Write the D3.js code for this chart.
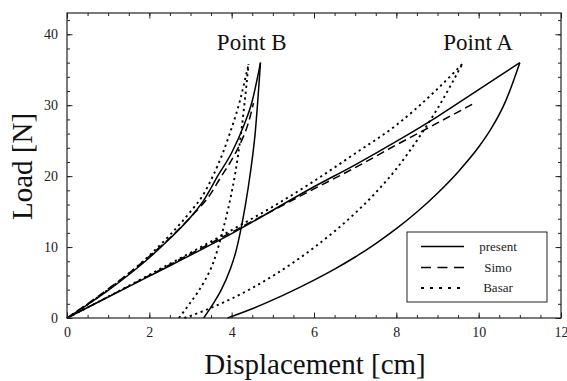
<!DOCTYPE html>
<html><head><meta charset="utf-8">
<script src="https://cdn.jsdelivr.net/npm/d3@7"></script>
<style>
body{margin:0;background:#fff;}
svg text{font-family:"Liberation Serif","Times New Roman",serif;}
</style></head>
<body><svg id="c" width="567" height="381"></svg>
<script>
// ---- data (x = displacement [cm], y = load [N]) ----
const xMajorTicks = [0, 2, 4, 6, 8, 10, 12];
const xMinorTicks = d3.range(0, 12.01, 0.5);
const yMajorTicks = [0, 10, 20, 30, 40];
const yMinorTicks = d3.range(0, 43, 2);

const presentLoadA = [[0,0],[2,5.9],[4,11.9],[6,18.5],[7,21.6],[8,24.9],[9,28.4],[10,32.2],[11,36]];
const presentUnloadA = [[3.9,0],[4.5,1.3],[5,2.55],[5.5,3.9],[6,5.35],[6.5,6.9],[7,8.6],[7.5,10.5],[8,12.6],[8.5,14.95],[9,17.6],[9.5,20.6],[10,24.1],[10.3,26.65],[10.65,30.5],[11,36]];
const presentLoadB = [[0,0],[0.5,1.9],[1,3.9],[1.5,6.1],[2,8.5],[2.5,11.2],[3,14.2],[3.3,16.4],[3.68,20.2],[4,23.3],[4.3,27.2],[4.5,30.6],[4.7,36]];
const presentUnloadB = [[3.32,0],[3.56,2.1],[3.75,4.0],[3.96,6.8],[4.1,9.3],[4.21,12.1],[4.33,15.8],[4.45,20.3],[4.57,26.0],[4.7,36]];

const simoLoadA = [[0,0],[2,6.0],[4,12.1],[6,18.2],[7,21.2],[8,24.4],[9,27.5],[9.9,30.3]];
const simoLoadB = [[0,0],[0.5,2.0],[1,4.1],[1.5,6.3],[2,8.7],[2.5,11.3],[3,14.2],[3.5,17.6],[3.72,19.7],[4,22.3],[4.21,24.6],[4.4,27.4],[4.53,30.3]];

const basarLoadA = [[0,0],[1,3.0],[2,6.1],[3,9.2],[4,12.4],[5,15.7],[6,19.3],[7,23.2],[8,27.2],[9,32.3],[9.6,35.8]];
const basarUnloadA = [[2.85,0],[3.5,1.43],[4,2.73],[4.5,4.23],[5,5.93],[5.5,7.83],[6,9.93],[6.5,12.23],[7,14.78],[7.5,17.68],[8,21.03],[8.5,25.03],[9,29.53],[9.6,35.8]];
const basarLoadB = [[0,0],[1,4.0],[2,8.8],[2.5,11.7],[3,15.0],[3.3,17.3],[3.56,20.2],[3.8,23.5],[3.96,26.1],[4.1,28.6],[4.2,30.6],[4.3,33.0],[4.41,35.8]];
const basarUnloadB = [[2.72,0],[2.95,1.8],[3.16,3.5],[3.35,5.3],[3.56,7.9],[3.76,11.8],[3.96,16.6],[4.09,20.5],[4.2,24.8],[4.3,29.6],[4.41,35.8]];

const legendLabels = ["present", "Simo", "Basar"];
const annotations = [{text:"Point B", x:3.64, y:37.8}, {text:"Point A", x:9.14, y:37.8}];

// ---- drawing ----
const svg = d3.select("#c");
const L = 67, R = 561, T = 13, B = 318;
const x = d3.scaleLinear().domain([0, 12]).range([L, R]);
const y = d3.scaleLinear().domain([0, 43]).range([B, T]);

const styles = {
  solid: null,
  dashed: "8,4.5",
  dotted: "2.2,3.6"
};
const line = d3.line().x(d => x(d[0])).y(d => y(d[1])).curve(d3.curveMonotoneX);
const series = [
  [presentLoadA, "solid"], [presentUnloadA, "solid"], [presentLoadB, "solid"], [presentUnloadB, "solid"],
  [simoLoadA, "dashed"], [simoLoadB, "dashed"],
  [basarLoadA, "dotted"], [basarUnloadA, "dotted"], [basarLoadB, "dotted"], [basarUnloadB, "dotted"]
];
const plot = svg.append("g");
series.forEach(([d, s]) => {
  plot.append("path").datum(d).attr("d", line)
    .attr("fill", "none").attr("stroke", "#000")
    .attr("stroke-width", s === "dotted" ? 1.9 : 1.5)
    .attr("stroke-dasharray", styles[s]);
});

// axes (ticks inward)
function axisGroup(axisFn, scale, vals, size, transform, labels) {
  const a = axisFn(scale).tickValues(vals).tickSize(size).tickPadding(size < 0 ? 9 : 3);
  if (!labels) a.tickFormat("");
  const g = svg.append("g").attr("transform", transform).call(a);
  g.select(".domain").remove();
  g.selectAll("line").attr("stroke", "#222").attr("stroke-width", 1);
  g.selectAll("text").attr("font-size", 14).attr("fill", "#222");
  return g;
}
axisGroup(d3.axisBottom, x, xMinorTicks, -3, `translate(0,${B})`, false);
axisGroup(d3.axisBottom, x, xMajorTicks, -5.5, `translate(0,${B})`, true);
axisGroup(d3.axisTop, x, xMinorTicks, -3, `translate(0,${T})`, false);
axisGroup(d3.axisTop, x, xMajorTicks, -5.5, `translate(0,${T})`, false);
axisGroup(d3.axisLeft, y, yMinorTicks, -3, `translate(${L},0)`, false);
axisGroup(d3.axisLeft, y, yMajorTicks, -5.5, `translate(${L},0)`, true);
axisGroup(d3.axisRight, y, yMinorTicks, -3, `translate(${R},0)`, false);
axisGroup(d3.axisRight, y, yMajorTicks, -5.5, `translate(${R},0)`, false);

svg.append("rect").attr("x", L).attr("y", T).attr("width", R - L).attr("height", B - T)
  .attr("fill", "none").attr("stroke", "#222").attr("stroke-width", 1.2);

// annotations
annotations.forEach(a => {
  svg.append("text").attr("x", x(a.x)).attr("y", y(a.y)).attr("font-size", 23)
    .attr("fill", "#111").text(a.text);
});

// axis titles
svg.append("text").attr("x", 315).attr("y", 374).attr("text-anchor", "middle")
  .attr("font-size", 29).attr("fill", "#111").text("Displacement [cm]");
svg.append("text").attr("transform", `translate(32,166.5) rotate(-90)`)
  .attr("text-anchor", "middle").attr("font-size", 29).attr("fill", "#111").text("Load [N]");

// legend
const lg = svg.append("g");
lg.append("rect").attr("x", 407).attr("y", 232).attr("width", 140).attr("height", 70)
  .attr("fill", "#fff").attr("stroke", "#222").attr("stroke-width", 1);
const lgStyles = ["solid", "dashed", "dotted"];
const lgDash = [null, "10,6.5", "3,6"];
const lgY = [246.5, 267.5, 288];
legendLabels.forEach((t, i) => {
  lg.append("line").attr("x1", 421).attr("x2", 464).attr("y1", lgY[i]).attr("y2", lgY[i])
    .attr("stroke", "#000").attr("stroke-width", lgStyles[i] === "dotted" ? 1.9 : 1.5)
    .attr("stroke-dasharray", lgDash[i]);
  lg.append("text").attr("x", 498).attr("y", lgY[i] + 4).attr("text-anchor", "middle")
    .attr("font-size", 13).attr("fill", "#222").text(t);
});
</script></body></html>
